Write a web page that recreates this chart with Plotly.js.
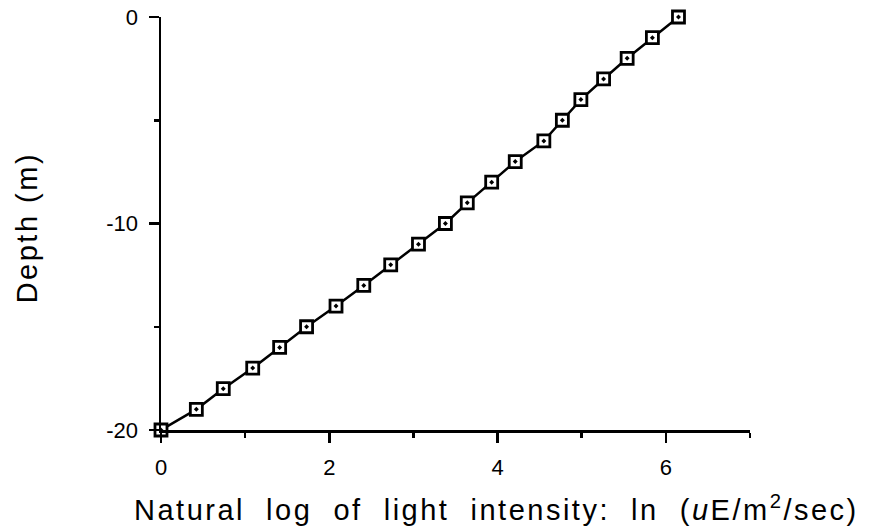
<!DOCTYPE html>
<html>
<head>
<meta charset="utf-8">
<script src="https://cdn.plot.ly/plotly-3.0.1.min.js"></script>
<style>
html,body{margin:0;padding:0;background:#fff;}
#chart{width:878px;height:531px;}
.annotation-text{letter-spacing:2.5px;}
</style>
</head>
<body>
<div id="chart"></div>
<script>
const lightLn = [6.15, 5.84, 5.54, 5.26, 4.99, 4.77, 4.55, 4.21, 3.93, 3.64, 3.38, 3.06, 2.73, 2.41, 2.08, 1.73, 1.41, 1.09, 0.74, 0.42, 0.0];
const depth = [0, -1, -2, -3, -4, -5, -6, -7, -8, -9, -10, -11, -12, -13, -14, -15, -16, -17, -18, -19, -20];
const xTickVals = [0, 2, 4, 6];
const yTickVals = [0, -10, -20];
const xTitle = "Natural\u00A0 log\u00A0 of\u00A0 light\u00A0 intensity:\u00A0 ln\u00A0 (<i>u</i>E/m<sup>2</sup>/sec)";
const yTitle = "Depth (m)";

const font = "Liberation Sans, Arial, Helvetica, sans-serif";

const trace = {
  x: lightLn,
  y: depth,
  type: 'scatter',
  mode: 'lines+markers',
  cliponaxis: false,
  line: {color: '#000', width: 2.5},
  marker: {symbol: 'square-dot', size: 12, color: '#fff', line: {color: '#000', width: 2.8}},
  hoverinfo: 'x+y'
};

const layout = {
  width: 878, height: 531,
  margin: {l: 161, r: 128, t: 17, b: 101},
  paper_bgcolor: '#fff', plot_bgcolor: '#fff',
  showlegend: false,
  font: {family: font, color: '#000'},
  xaxis: {
    range: [0, 7], showgrid: false, zeroline: false,
    showline: true, linecolor: '#000', linewidth: 2.5,
    tickmode: 'array', tickvals: xTickVals, ticktext: xTickVals.map(String),
    ticks: 'outside', ticklen: 10, tickwidth: 2.5, tickcolor: '#000',
    minor: {dtick: 1, tick0: 0, ticks: 'outside', ticklen: 5, tickwidth: 2.5, tickcolor: '#000', showgrid: false},
    tickfont: {size: 22, family: font, color: '#000'},
    ticklabelstandoff: 6
  },
  yaxis: {
    range: [-20, 0], showgrid: false, zeroline: false,
    showline: true, linecolor: '#000', linewidth: 2.5,
    tickmode: 'array', tickvals: yTickVals, ticktext: yTickVals.map(String),
    ticks: 'outside', ticklen: 10, tickwidth: 2.5, tickcolor: '#000',
    minor: {dtick: 5, tick0: 0, ticks: 'outside', ticklen: 5, tickwidth: 2.5, tickcolor: '#000', showgrid: false},
    tickfont: {size: 22, family: font, color: '#000'},
    ticklabelstandoff: 6
  },
  annotations: [
    {text: xTitle, xref: 'paper', yref: 'paper', x: 0.569, y: -0.19,
     xanchor: 'center', yanchor: 'middle', showarrow: false,
     font: {size: 29, family: font, color: '#000'}},
    {text: yTitle, xref: 'paper', yref: 'paper', x: -0.228, y: 0.49,
     xanchor: 'center', yanchor: 'middle', showarrow: false, textangle: -90,
     font: {size: 29, family: font, color: '#000'}}
  ]
};

Plotly.newPlot('chart', [trace], layout, {displayModeBar: false, staticPlot: true});
</script>
</body>
</html>
